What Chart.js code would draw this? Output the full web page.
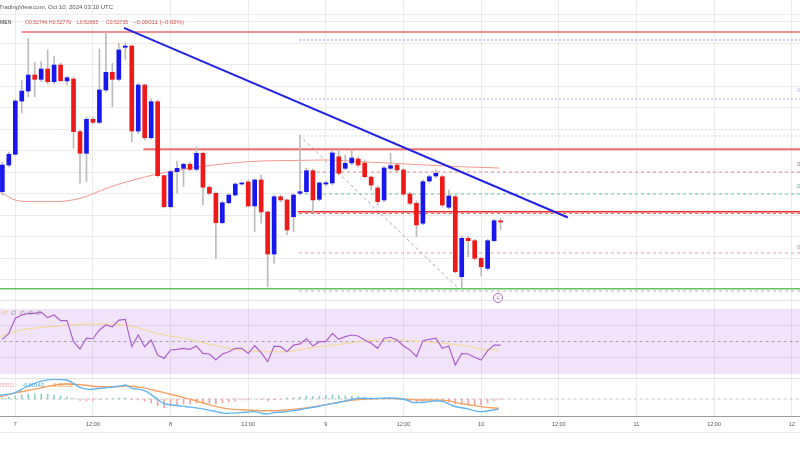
<!DOCTYPE html>
<html>
<head>
<meta charset="utf-8">
<script src="https://cdn.jsdelivr.net/npm/chart.js@4.4.1/dist/chart.umd.min.js"></script>
<style>
  html, body { margin: 0; padding: 0; background: #fff; }
  body { width: 800px; height: 450px; position: relative; overflow: hidden; font-family: "Liberation Sans", Arial, sans-serif; }
  .panel { position: absolute; left: 0; width: 800px; }
  .panel canvas { display: block; }
  .txt { position: absolute; white-space: nowrap; font-size: 6px; line-height: 8px; z-index: 5; }
  .ohlc { transform: scale(0.85); transform-origin: left center; }
  .leyenda { transform: scale(0.9); transform-origin: left center; }
  .sep { position: absolute; left: 0; width: 800px; height: 1px; z-index: 4; }
</style>
</head>
<body>
<div class="panel" style="top:0;height:301px"><canvas id="precio" width="800" height="301"></canvas></div>
<div class="panel" style="top:301px;height:77px"><canvas id="rsi" width="800" height="77"></canvas></div>
<div class="panel" style="top:378px;height:54px"><canvas id="macd" width="800" height="54"></canvas></div>

<div class="sep" style="top:14px;background:#ededed"></div>
<div class="sep" style="top:300px;background:#e2e2e2"></div>
<div class="sep" style="top:378px;background:#e2e2e2"></div>
<div class="sep" style="top:432px;background:#ececec"></div>

<!-- cabecera -->
<div class="txt" style="left:-1px;top:3px;color:#555">TradingView.com, Oct 10, 2024 03:10 UTC</div>
<div class="txt ohlc" style="left:0;top:18px;color:#333">MEN</div>
<div class="txt ohlc" style="left:25px;top:18px;color:#d9534f">O0.52746</div>
<div class="txt ohlc" style="left:49px;top:18px;color:#d9534f">H0.52770</div>
<div class="txt ohlc" style="left:77px;top:18px;color:#d9534f">L0.52665</div>
<div class="txt ohlc" style="left:106px;top:18px;color:#d9534f">C0.52735</div>
<div class="txt" style="left:133px;top:18px;color:#d9534f">−0.00011 (−0.02%)</div>

<!-- etiquetas fib cortadas en el borde -->
<div class="txt" style="left:797px;top:86px;color:#c9a3ef">0.236(0.53879)</div>
<div class="txt" style="left:797px;top:160px;color:#cf6b6b">0.236(0.53200)</div>
<div class="txt" style="left:797px;top:182px;color:#4fc39f">0.382(0.52995)</div>
<div class="txt" style="left:797px;top:243px;color:#e07a7a">0.786(0.52447)</div>

<!-- marcador de evento -->
<div style="position:absolute;left:493px;top:293px;width:8px;height:8px;border:1px solid #b36bd4;border-radius:50%;background:#fff;z-index:5;font-size:6px;line-height:8px;text-align:center;color:#b36bd4">ϟ</div>

<!-- leyenda RSI -->
<div class="txt" style="left:1px;top:309px;color:#f0c94a">47</div>
<div class="txt" style="left:11px;top:309px;color:#8a8a8a">∅</div>
<div class="txt" style="left:19.5px;top:309px;color:#8a8a8a">∅</div>
<div class="txt" style="left:27.5px;top:309px;color:#8a8a8a">∅</div>
<div class="txt" style="left:35.5px;top:309px;color:#8a8a8a">∅</div>

<!-- leyenda MACD -->
<div class="txt leyenda" style="left:0;top:381px;color:#f2a7a7">00011</div>
<div class="txt leyenda" style="left:21px;top:381px;color:#4aa8ee">−0.00143</div>
<div class="txt leyenda" style="left:50px;top:381px;color:#f5944f">−0.00132</div>

<script>
// Eje de tiempo (velas de 1 hora, índice 0 = 6 oct 22:00)
const etiquetasTiempo = ['7', '12:00', '8', '12:00', '9', '12:00', '10', '12:00', '11', '12:00', '12'];
const posTiempo = [2, 14, 26, 38, 50, 62, 74, 86, 98, 110, 122];

// Velas
const apertura = [0.53017, 0.53265, 0.53365, 0.53860, 0.53953, 0.54102, 0.54062, 0.54158, 0.54040, 0.54195,
  0.54047, 0.54065, 0.53575, 0.53374, 0.53690, 0.53662, 0.53963, 0.54127, 0.54062, 0.54360,
  0.54372, 0.53581, 0.54009, 0.53519, 0.53854, 0.53166, 0.52877, 0.53203, 0.53234, 0.53272,
  0.53225, 0.53374, 0.53058, 0.53002, 0.52728, 0.52914, 0.52986, 0.53088, 0.53107, 0.52884,
  0.53126, 0.52828, 0.52437, 0.52970, 0.52940, 0.52784, 0.53002, 0.53017, 0.53212, 0.52946,
  0.53088, 0.53098, 0.53342, 0.53234, 0.53284, 0.53321, 0.53284, 0.53153, 0.53051, 0.52940,
  0.53234, 0.53265, 0.53219, 0.52995, 0.52909, 0.52723, 0.53116, 0.53163, 0.53156, 0.52872,
  0.52970, 0.52226, 0.52583, 0.52561, 0.52397, 0.52304, 0.52561, 0.52746];
const maximo = [0.53293, 0.53386, 0.53879, 0.54056, 0.54444, 0.54217, 0.54226, 0.54335, 0.54273, 0.54214,
  0.54093, 0.54084, 0.53591, 0.53712, 0.53712, 0.54344, 0.54496, 0.54211, 0.54397, 0.54400,
  0.54381, 0.54028, 0.54019, 0.53879, 0.53870, 0.53172, 0.53219, 0.53302, 0.53284, 0.53293,
  0.53435, 0.53386, 0.53070, 0.53014, 0.52930, 0.52995, 0.53098, 0.53107, 0.53126, 0.53135,
  0.53172, 0.52837, 0.52986, 0.52986, 0.52949, 0.52995, 0.53544, 0.53237, 0.53228, 0.53107,
  0.53116, 0.53395, 0.53405, 0.53358, 0.53405, 0.53340, 0.53312, 0.53163, 0.53070, 0.53256,
  0.53374, 0.53284, 0.53237, 0.53014, 0.52930, 0.53126, 0.53172, 0.53219, 0.53172, 0.53033,
  0.52986, 0.52605, 0.52605, 0.52577, 0.52409, 0.52577, 0.52763, 0.52770];
const minimo = [0.52986, 0.53247, 0.53358, 0.53749, 0.53900, 0.53900, 0.54037, 0.54019, 0.54019, 0.54037,
  0.54009, 0.53420, 0.53095, 0.53110, 0.53647, 0.53647, 0.53944, 0.53807, 0.54047, 0.54242,
  0.53482, 0.53553, 0.53498, 0.53507, 0.53153, 0.52865, 0.52865, 0.53002, 0.53063, 0.53209,
  0.53209, 0.52893, 0.52986, 0.52397, 0.52716, 0.52902, 0.52977, 0.53079, 0.52874, 0.52645,
  0.52723, 0.52133, 0.52351, 0.52921, 0.52614, 0.52642, 0.52986, 0.53005, 0.52831, 0.52930,
  0.53070, 0.53079, 0.53172, 0.53219, 0.53265, 0.53247, 0.53144, 0.53033, 0.52893, 0.52921,
  0.53219, 0.53200, 0.52977, 0.52893, 0.52598, 0.52707, 0.53098, 0.53144, 0.52874, 0.52856,
  0.52260, 0.52118, 0.52412, 0.52381, 0.52233, 0.52288, 0.52549, 0.52665];
const cierre = [0.53265, 0.53365, 0.53860, 0.53953, 0.54102, 0.54062, 0.54158, 0.54040, 0.54195, 0.54049,
  0.54077, 0.53575, 0.53374, 0.53690, 0.53662, 0.53963, 0.54127, 0.54062, 0.54335, 0.54372,
  0.53581, 0.54009, 0.53519, 0.53854, 0.53166, 0.52877, 0.53203, 0.53234, 0.53272, 0.53225,
  0.53374, 0.53058, 0.53002, 0.52728, 0.52914, 0.52986, 0.53088, 0.53098, 0.52884, 0.53126,
  0.52828, 0.52437, 0.52970, 0.52940, 0.52661, 0.52986, 0.53017, 0.53212, 0.52940, 0.53098,
  0.53100, 0.53377, 0.53188, 0.53281, 0.53330, 0.53265, 0.53156, 0.53079, 0.52924, 0.53237,
  0.53259, 0.53219, 0.52995, 0.52909, 0.52707, 0.53110, 0.53156, 0.53188, 0.52893, 0.52977,
  0.52273, 0.52583, 0.52561, 0.52397, 0.52319, 0.52561, 0.52747, 0.52735];

// Media móvil sobre el precio (puntos leídos)
const mediaX = [-0.4, 2.2, 5, 8, 12, 16.6, 23.3, 27.4, 32.6, 39.8, 45, 50.2, 55.3, 60.5, 65.6, 70.8, 76.8];
const mediaY = [0.53017, 0.52935, 0.52924, 0.52924, 0.52955, 0.53060, 0.53172, 0.53219, 0.53265, 0.53302,
  0.53307, 0.53312, 0.53296, 0.53281, 0.53265, 0.53249, 0.53237];

// Niveles dibujados
const resistenciaPrecio = [0.54502, 0.53411, 0.52831];
const resistenciaInicio = [3.0, 21.8, 45.7];
const soportePrecio = 0.52114;
const tendenciaX = [18.8, 87.4];
const tendenciaY = [0.54540, 0.52777];
const fibPrecios = [0.54428, 0.53879, 0.53535, 0.53200, 0.52995, 0.52815, 0.52447, 0.52093];
const fibInicio = 45.85;
const diagonalX = [45.85, 70.4];
const diagonalY = [0.53544, 0.52121];
const gridPrecio = [0.522, 0.524, 0.526, 0.528, 0.530, 0.532, 0.534, 0.536, 0.538, 0.540, 0.542, 0.544, 0.546];

// RSI
const rsi = [51.3, 55.0, 64.3, 66.3, 67.3, 67.3, 68.0, 64.7, 66.3, 62.8,
  62.8, 49.9, 45.4, 52.0, 51.7, 57.1, 60.2, 59.1, 63.2, 63.6,
  46.8, 54.0, 46.8, 50.9, 41.7, 39.6, 44.8, 45.2, 45.8, 45.2,
  47.2, 42.7, 42.3, 38.6, 42.3, 43.7, 45.8, 45.8, 42.7, 47.4,
  43.1, 37.6, 47.2, 46.8, 43.7, 47.8, 48.5, 51.7, 47.2, 49.9,
  49.9, 55.0, 51.3, 53.0, 54.0, 53.4, 50.9, 48.9, 45.8, 52.0,
  52.6, 50.9, 47.2, 44.8, 40.7, 50.5, 51.3, 52.0, 45.8, 47.2,
  35.5, 42.7, 42.3, 40.3, 38.6, 44.4, 47.8, 47.8];
const rsiMediaX = [-0.37, 3, 7.4, 12.5, 16.6, 20.2, 23.8, 28, 32.6, 36.7, 40.9, 44, 47, 51.2, 55.3, 58.4, 61.5, 64.6, 68.2, 71.8, 74.9, 76.7];
const rsiMediaY = [53.0, 57.1, 59.1, 60.6, 60.8, 59.1, 55.0, 52.0, 47.8, 44.8, 43.7, 43.7, 45.8, 47.8, 49.9, 50.9, 50.9, 49.9, 48.9, 47.2, 44.8, 44.8];
const rsiBandas = [70, 50, 30];

// MACD
const macdX = [-0.37, 1.7, 3.76, 5.8, 7.9, 9.9, 11, 12, 13.5, 15.1, 16.6, 18.2, 19, 20, 21.3, 22.3, 23.8, 24.9, 26.4, 28.5,
  30.5, 32.6, 34.7, 36.7, 38.8, 40.9, 41.9, 43.4, 45, 47, 49.1, 51.2, 53.2, 55.3, 57.3, 59.4, 60.9, 62.5, 63.5, 65.6,
  67.1, 68.2, 69.7, 71.8, 73.8, 75.9, 76.7];
const macdY = [0.00057, 0.00081, 0.00176, 0.00248, 0.00281, 0.00272, 0.00224, 0.00167, 0.00138, 0.00153,
  0.00167, 0.00186, 0.00200, 0.00153, 0.00138, 0.00105, 0.00010, -0.00062, -0.00086, -0.00110,
  -0.00134, -0.00172, -0.00205, -0.00195, -0.00181, -0.00215, -0.00195, -0.00186, -0.00167, -0.00134,
  -0.00100, -0.00062, -0.00024, 0.00010, 0.00005, 0.00014, 0.00010, -0.00014, -0.00052, -0.00043,
  -0.00024, -0.00038, -0.00100, -0.00138, -0.00181, -0.00157, -0.00143];
const senalX = [-0.37, 2.2, 4.8, 7.4, 9.9, 12.5, 15.1, 17.7, 19.2, 21.3, 23.3, 25.4, 27.5, 29.5, 31.6, 33.6, 35.7, 37.8, 39.8,
  41.9, 44, 46, 48.1, 50.1, 52.2, 54.3, 56.3, 58.4, 60.4, 62.5, 64.5, 66.6, 68.7, 70.7, 72.8, 74.8, 76.7];
const senalY = [0.00033, 0.00091, 0.00138, 0.00186, 0.00214, 0.00200, 0.00176, 0.00176, 0.00186, 0.00167,
  0.00129, 0.00081, 0.00033, -0.00014, -0.00072, -0.00119, -0.00148, -0.00157, -0.00167, -0.00167,
  -0.00157, -0.00138, -0.00110, -0.00081, -0.00043, -0.00014, 0.00000, 0.00005, 0.00005, -0.00005,
  -0.00014, -0.00014, -0.00024, -0.00062, -0.00091, -0.00119, -0.00132];
const histograma = [0.00014, 0.00029, 0.00043, 0.00057, 0.00072, 0.00072, 0.00072, 0.00072, 0.00057, 0.00043,
  0.00029, 0.00007, -0.00021, -0.00029, -0.00021, -0.00007, 0.00002, 0.00007, 0.00014, 0.00014,
  -0.00007, -0.00014, -0.00029, -0.00057, -0.00100, -0.00129, -0.00100, -0.00086, -0.00072, -0.00072,
  -0.00057, -0.00057, -0.00057, -0.00072, -0.00057, -0.00043, -0.00029, -0.00014, -0.00014, 0.00001,
  -0.00014, -0.00029, -0.00014, -0.00002, 0.00014, 0.00021, 0.00029, 0.00043, 0.00036, 0.00043,
  0.00050, 0.00057, 0.00050, 0.00043, 0.00043, 0.00036, 0.00029, 0.00021, 0.00014, 0.00014,
  0.00007, 0.00007, -0.00007, -0.00021, -0.00043, -0.00029, -0.00021, -0.00014, -0.00021, -0.00043,
  -0.00072, -0.00079, -0.00072, -0.00086, -0.00086, -0.00057, -0.00029, -0.00011];

// ---- estilo ----
const X_MIN = -0.365, X_MAX = 123.28;
const GRID = '#ebebeb';
const AZUL = '#1818ee';
const ROJO = '#ee1a1a';
Chart.defaults.font.family = '"Liberation Sans", Arial, sans-serif';
Chart.defaults.animation = false;

const puntos = (xs, ys) => xs.map((x, i) => ({ x, y: ys[i] }));
const horizontal = (desde, valor) => [{ x: desde, y: valor }, { x: X_MAX + 5, y: valor }];

function linea(datos, color, ancho, guion, orden, curva) {
  return {
    type: 'line', data: datos, borderColor: color, borderWidth: ancho,
    borderDash: guion || [], pointRadius: 0, fill: false,
    tension: curva ? 0.4 : 0, cubicInterpolationMode: curva ? 'monotone' : 'default',
    order: orden ?? 3
  };
}

function ejeX(conEtiquetas) {
  return {
    type: 'linear', min: X_MIN, max: X_MAX, offset: false,
    afterBuildTicks: s => { s.ticks = posTiempo.map(v => ({ value: v })); },
    ticks: conEtiquetas
      ? { display: true, autoSkip: false, maxRotation: 0, padding: 5, color: '#555', font: { size: 5.5 },
          callback: v => etiquetasTiempo[posTiempo.indexOf(v)] ?? '' }
      : { display: false },
    grid: { color: GRID, drawTicks: false, offset: false },
    border: conEtiquetas ? { display: true, color: '#9a9a9a', width: 1 } : { display: false },
    afterFit: s => { s.height = conEtiquetas ? 16 : 0; }
  };
}

function ejeY(min, max, marcas, conGrid) {
  return {
    type: 'linear', min, max, position: 'right',
    afterBuildTicks: s => { s.ticks = marcas.map(v => ({ value: v })); },
    ticks: { display: false },
    grid: { display: conGrid, color: GRID, drawTicks: false },
    border: { display: false },
    afterFit: s => { s.width = 0; }
  };
}

const opcionesBase = (escalas) => ({
  responsive: false, animation: false, events: [],
  layout: { padding: 0 },
  plugins: { legend: { display: false }, tooltip: { enabled: false } },
  scales: escalas
});

// ---- panel de precio ----
const velas = apertura.map((o, i) => ({ x: i, y: [o, cierre[i]] }));
const mechas = maximo.map((h, i) => ({ x: i, y: [minimo[i], h] }));
const colorVela = apertura.map((o, i) => cierre[i] >= o ? AZUL : ROJO);

const coloresFib = ['#9a9cf3', '#c9a3ef', '#b5daf2', '#e58e8e', '#62cfa9', '#d85b5b', '#f09a9a', '#b4b4b4'];
const guionesFib = [[2, 2], [2, 2], [2, 2], [3, 3], [3, 3], [3, 3], [3, 3], [3, 3]];
const lineasFib = fibPrecios.map((p, k) => linea(horizontal(fibInicio, p), coloresFib[k], 1, guionesFib[k], 6));

new Chart(document.getElementById('precio'), {
  type: 'bar',
  data: {
    datasets: [
      { type: 'bar', data: velas, backgroundColor: colorVela, barThickness: 4, grouped: false, minBarLength: 1, order: 0 },
      { type: 'bar', data: mechas, backgroundColor: '#bcbcbc', barThickness: 1, grouped: false, order: 1 },
      linea(puntos(tendenciaX, tendenciaY), '#2323e2', 2, null, -1),
      linea(horizontal(resistenciaInicio[0], resistenciaPrecio[0]), '#f26a6a', 1.5, null, 4),
      linea(horizontal(resistenciaInicio[1], resistenciaPrecio[1]), '#f36e6e', 2, null, 4),
      linea(horizontal(resistenciaInicio[2], resistenciaPrecio[2]), '#f02a2a', 1.5, null, 4),
      linea(horizontal(X_MIN - 5, soportePrecio), '#63c063', 1.5, null, 4),
      linea(puntos(mediaX, mediaY), '#f5978b', 1, null, 2, true),
      linea(puntos(diagonalX, diagonalY), '#a8a8a8', 1, [3, 3], 5),
      ...lineasFib
    ]
  },
  options: opcionesBase({ x: ejeX(false), y: ejeY(0.520, 0.548, gridPrecio, true) })
});

// ---- panel RSI ----
const rsiPuntos = rsi.map((v, i) => ({ x: i, y: v }));
new Chart(document.getElementById('rsi'), {
  type: 'line',
  data: {
    datasets: [
      { ...linea(horizontal(X_MIN - 5, rsiBandas[0]), 'rgba(0,0,0,0)', 0, null, 9), fill: '+1', backgroundColor: 'rgba(175,105,230,0.19)' },
      linea(horizontal(X_MIN - 5, rsiBandas[2]), 'rgba(0,0,0,0)', 0, null, 9),
      linea(horizontal(X_MIN - 5, rsiBandas[1]), '#aaa2b4', 1, [3, 3], 8),
      linea(puntos(rsiMediaX, rsiMediaY), '#f5d88e', 1, null, 2, true),
      linea(rsiPuntos, '#ad60cd', 1.2, null, 1)
    ]
  },
  options: opcionesBase({ x: ejeX(false), y: ejeY(27.54, 74.92, [40, 60], true) })
});

// ---- panel MACD ----
const barrasHist = histograma.map((v, i) => ({ x: i, y: v }));
const colorHist = histograma.map(v => v >= 0 ? '#8ed0c4' : '#f5a3a3');
new Chart(document.getElementById('macd'), {
  type: 'bar',
  data: {
    datasets: [
      { type: 'bar', data: barrasHist, backgroundColor: colorHist, barThickness: 1, grouped: false, order: 3 },
      linea(horizontal(X_MIN - 5, 0), '#c4c4c4', 1, [3, 3], 4),
      linea(puntos(senalX, senalY), '#f7a060', 1.4, null, 2, true),
      linea(puntos(macdX, macdY), '#62b5f3', 1.4, null, 1, true)
    ]
  },
  options: opcionesBase({ x: ejeX(true), y: ejeY(-0.002431, 0.003003, [0], false) })
});
</script>
</body>
</html>
